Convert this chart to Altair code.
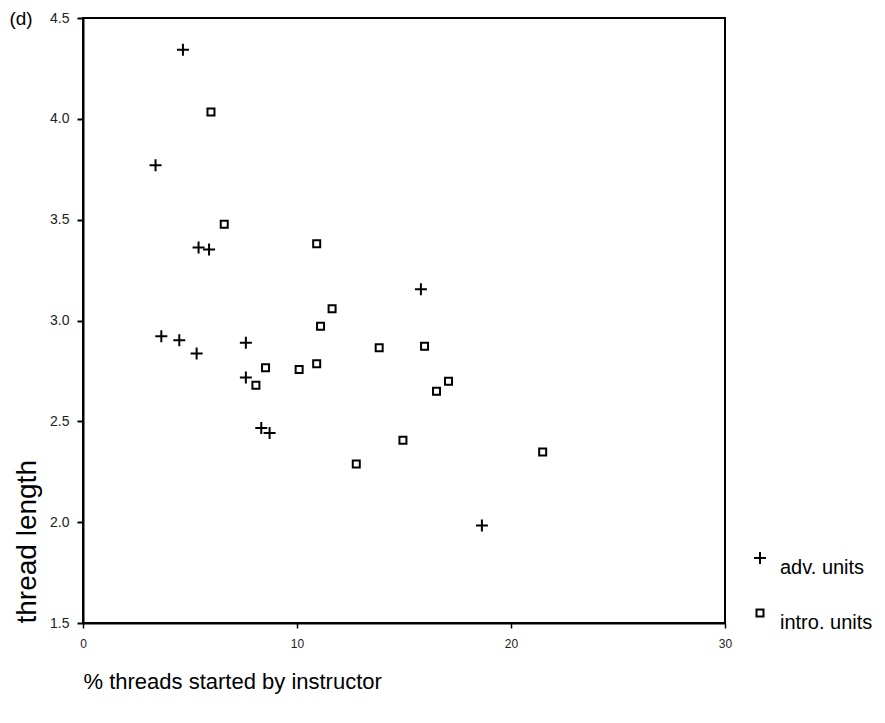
import altair as alt
import pandas as pd

# adv. units
adv_x = [4.67, 3.39, 5.40, 5.89, 3.66, 4.50, 5.31, 7.61, 7.61, 8.33, 8.72, 15.79, 18.64]
adv_y = [4.343, 3.770, 3.362, 3.352, 2.922, 2.902, 2.836, 2.890, 2.717, 2.467, 2.442, 3.155, 1.984]

# intro. units
intro_x = [5.98, 6.60, 10.92, 11.64, 11.10, 13.84, 15.96, 8.53, 10.10, 10.92, 8.08, 17.08, 16.52, 14.95, 21.48, 12.77]
intro_y = [4.034, 3.477, 3.380, 3.058, 2.971, 2.865, 2.872, 2.766, 2.757, 2.786, 2.679, 2.699, 2.649, 2.406, 2.348, 2.289]

series = ["adv. units", "intro. units"]
x_ticks = [0, 10, 20, 30]
y_ticks = [1.5, 2.0, 2.5, 3.0, 3.5, 4.0, 4.5]
panel_label = ["(d)"]

df = pd.DataFrame({
    "pct": adv_x + intro_x,
    "len": adv_y + intro_y,
    "unit": [series[0]] * len(adv_x) + [series[1]] * len(intro_x),
})

FONT = "Liberation Sans, Arial, Helvetica, sans-serif"
PLUS = "M-1,0H1M0,-1V1"

legend = alt.Legend(title=None, orient="none", legendX=667, legendY=530,
                    labelFontSize=20, labelFont=FONT, labelColor="black",
                    labelBaseline="top", labelOffset=10, rowPadding=25,
                    symbolStrokeWidth=2, symbolStrokeColor="black", padding=0)

points = alt.Chart(df).mark_point(filled=False, color="black", strokeWidth=2, opacity=1).encode(
    x=alt.X("pct:Q",
            scale=alt.Scale(domain=[0, 30], nice=False, zero=False),
            axis=alt.Axis(values=x_ticks, format="d", grid=False, labelFlush=False,
                          title="% threads started by instructor",
                          titleFontSize=22, titleFontWeight="normal", titleFont=FONT,
                          titleColor="black",
                          titleX=0, titleY=65, titleAlign="left", titleBaseline="alphabetic",
                          labelFontSize=12, labelFont=FONT, labelColor="#222",
                          labelPadding=10, tickSize=5, tickWidth=1.5, tickColor="black",
                          domainColor="black", domainWidth=2)),
    y=alt.Y("len:Q",
            scale=alt.Scale(domain=[1.5, 4.5], nice=False, zero=False),
            axis=alt.Axis(values=y_ticks, format=".1f", grid=False, labelFlush=False,
                          title="thread length",
                          titleFontSize=28, titleFontWeight="normal", titleFont=FONT,
                          titleColor="black",
                          titleX=-48, titleY=605, titleAngle=270, titleAlign="left",
                          titleBaseline="alphabetic",
                          labelFontSize=14, labelFont=FONT, labelColor="#222",
                          labelPadding=8, tickSize=6, tickWidth=2, tickColor="black",
                          domainColor="black", domainWidth=2)),
    shape=alt.Shape("unit:N",
                    scale=alt.Scale(domain=series, range=[PLUS, "square"]),
                    legend=legend),
    size=alt.Size("unit:N",
                  scale=alt.Scale(domain=series, range=[144, 49]),
                  legend=legend),
)

label = alt.Chart(pd.DataFrame({"t": panel_label})).mark_text(
    font=FONT, fontSize=19, color="black", align="center", baseline="middle"
).encode(text="t:N", x=alt.value(-62), y=alt.value(1))

chart = alt.layer(points, label).properties(
    width=642, height=605,
    autosize=alt.AutoSizeParams(type="none"),
    padding={"left": 75, "top": 10, "right": 150, "bottom": 88},
).configure_view(stroke="black", strokeWidth=2)

chart.save("out.html", embed_options={"renderer": "svg", "actions": False})
